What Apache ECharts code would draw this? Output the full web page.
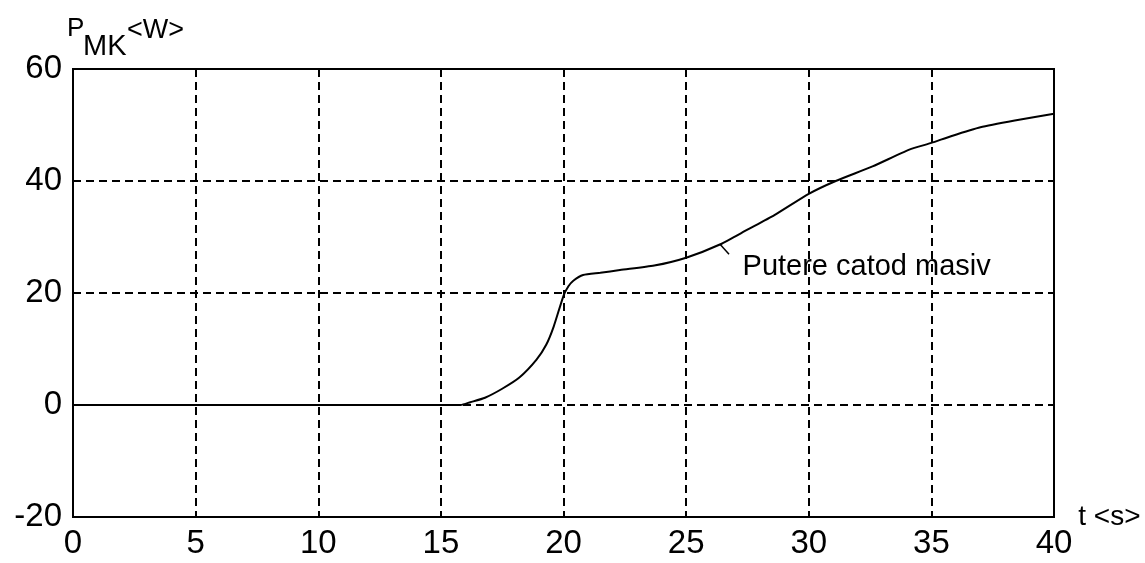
<!DOCTYPE html>
<html>
<head>
<meta charset="utf-8">
<script src="https://cdn.jsdelivr.net/npm/echarts@6/dist/echarts.min.js"></script>
<style>
html,body{margin:0;padding:0;background:#fff;}
#chart{width:1145px;height:563px;}
</style>
</head>
<body>
<div id="chart"></div>
<script>
// Data
const timeS = [0, 5, 10, 15, 15.8, 16.2, 16.8, 17.5, 18.2, 18.9, 19.3, 19.6, 20, 20.2, 20.4, 20.8, 21.5, 22.3, 23.7, 25, 26.4, 27.5, 28.6, 30, 31.1, 32.6, 34.1, 35, 35.8, 37, 38.4, 40];
const powerW = [0, 0, 0, 0, 0, 0.5, 1.3, 2.9, 4.9, 8.1, 10.8, 14, 19.5, 21.2, 22.2, 23.2, 23.6, 24.1, 24.9, 26.3, 28.7, 31.3, 33.9, 37.7, 40, 42.6, 45.6, 46.8, 48, 49.6, 50.8, 52];
const xTicks = [0, 5, 10, 15, 20, 25, 30, 35, 40];
const yTicks = [-20, 0, 20, 40, 60];
const seriesLabel = 'Putere catod masiv';
const pointerFrom = [26.4, 28.6];
const pointerTo = [26.75, 26.9];
const labelAt = [27.3, 24.6];

const chart = echarts.init(document.getElementById('chart'), null, {renderer: 'canvas'});
const FONT = '"Liberation Sans", Arial, sans-serif';
const gridLine = {show: true, lineStyle: {color: '#000', width: 2, type: [8, 5]}};

chart.setOption({
  animation: false,
  backgroundColor: '#fff',
  grid: {left: 73, right: 91, top: 69, bottom: 46, show: true, borderColor: '#000', borderWidth: 2},
  xAxis: {
    type: 'value', min: xTicks[0], max: xTicks[xTicks.length - 1], interval: 5,
    name: 't <s>', nameLocation: 'end', nameGap: 17,
    nameTextStyle: {color: '#000', fontFamily: FONT, fontSize: 28, verticalAlign: 'middle'},
    axisLine: {show: true, onZero: false, lineStyle: {color: '#000', width: 2}},
    axisTick: {show: false},
    axisLabel: {color: '#000', fontFamily: FONT, fontSize: 33, margin: 10},
    splitLine: gridLine
  },
  yAxis: {
    type: 'value', min: yTicks[0], max: yTicks[yTicks.length - 1], interval: 20,
    axisLine: {show: true, onZero: false, lineStyle: {color: '#000', width: 2}},
    axisTick: {show: false},
    axisLabel: {color: '#000', fontFamily: FONT, fontSize: 33, margin: 11},
    splitLine: gridLine
  },
  graphic: [
    {type: 'text', left: 67, top: 16, style: {text: 'P', font: '26px ' + FONT, fill: '#000'}},
    {type: 'text', left: 83, top: 32, style: {text: 'MK', font: '29px ' + FONT, fill: '#000'}},
    {type: 'text', left: 127, top: 17, style: {text: '<W>', font: '27px ' + FONT, fill: '#000'}}
  ],
  series: [{
    type: 'line',
    data: timeS.map((t, i) => [t, powerW[i]]),
    showSymbol: false,
    smooth: 0.2,
    lineStyle: {color: '#000', width: 2},
    z: 5,
    markLine: {
      silent: true, symbol: 'none', animation: false,
      lineStyle: {color: '#000', width: 1.5, type: 'solid'},
      label: {show: false},
      data: [[{coord: pointerFrom}, {coord: pointerTo}]]
    },
    markPoint: {
      silent: true, symbol: 'circle', symbolSize: 0,
      label: {show: true, position: 'right', distance: 0, formatter: seriesLabel, color: '#000', fontFamily: FONT, fontSize: 29},
      data: [{coord: labelAt}]
    }
  }]
});
</script>
</body>
</html>
